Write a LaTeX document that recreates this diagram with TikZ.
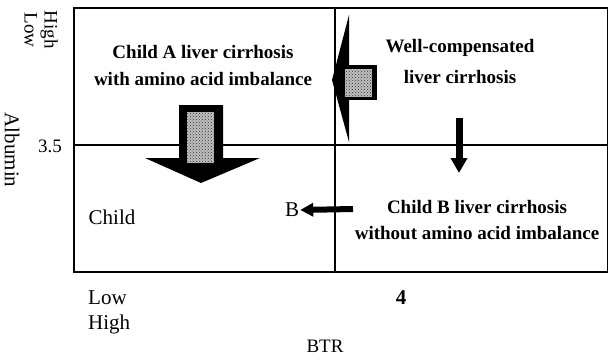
\documentclass[tikz,border=0pt]{standalone}
\usepackage{fontspec}
\setmainfont{Liberation Serif}
\usetikzlibrary{arrows.meta, patterns}

\tikzset{
  statelabel/.style={font=\fontsize{19}{27}\selectfont\bfseries, align=center, inner sep=0pt},
  axislabel/.style={font=\fontsize{21}{25}\selectfont, inner sep=0pt},
  grain/.style={fill=gray!50, postaction={pattern=crosshatch dots, pattern color=black!80}}
}

\begin{document}
\begin{tikzpicture}[x=1pt, y=-1pt]
\useasboundingbox (0,0) rectangle (609,361);

% frame and cut-off lines
\draw[line width=1.6pt] (74,8) rectangle (607.5,272);
\draw[line width=1.4pt] (74,145) -- (607.5,145);
\draw[line width=1.2pt] (335,8) -- (335,272);

% axis labels
\node[axislabel, rotate=-90, align=center, font=\fontsize{19}{20}\selectfont] (alblevel) at (41,30) {High\\Low};
\node[axislabel, rotate=-90] (albumin) at (12,150) {Albumin};
\node[axislabel, font=\fontsize{19}{22}\selectfont] (cutalb) at (50,146) {3.5};
\node[axislabel, anchor=west] (btrlow) at (88,298) {Low};
\node[axislabel, anchor=west] (btrhigh) at (88,324) {High};
\node[axislabel, font=\fontsize{21}{25}\selectfont\bfseries] (cutbtr) at (401,298) {4};
\node[axislabel, font=\fontsize{19}{22}\selectfont] (btr) at (325,346) {BTR};

% states
\node[statelabel] (childa) at (203,66) {Child A liver cirrhosis\\with amino acid imbalance};
\node[statelabel, font=\fontsize{19}{31}\selectfont\bfseries] (wellcomp) at (460,62) {Well-compensated\\liver cirrhosis};
\node[statelabel, font=\fontsize{19}{26}\selectfont\bfseries] (childb) at (477,220) {Child B liver cirrhosis\\without amino acid imbalance};
\node[axislabel] (childc) at (112,217) {Child};
\node[axislabel, inner sep=1pt] (classb) at (292,210) {B};

% big arrow down
\fill (179,105) -- (223,105) -- (223,158) -- (260,158) -- (201,183) -- (145,158) -- (179,158) -- cycle;
\path[grain] (187,112) rectangle (214,163);

% wedge arrow to the left
\fill (349,15) -- (332,80) -- (349,142) -- cycle;
\fill (340,65) rectangle (377,100);
\path[grain] (345,69) rectangle (372,97);

% small arrows
\coordinate (dropstart) at (459,118);
\coordinate (dropend) at (459,173);
\draw[line width=7pt, -{Triangle[length=15pt, width=16pt]}] (dropstart) -- (dropend);
\coordinate (shiftstart) at (353,209);
\draw[line width=6pt, -{Triangle[length=13pt, width=13pt]}] (shiftstart) -- (classb.east);
\end{tikzpicture}
\end{document}
